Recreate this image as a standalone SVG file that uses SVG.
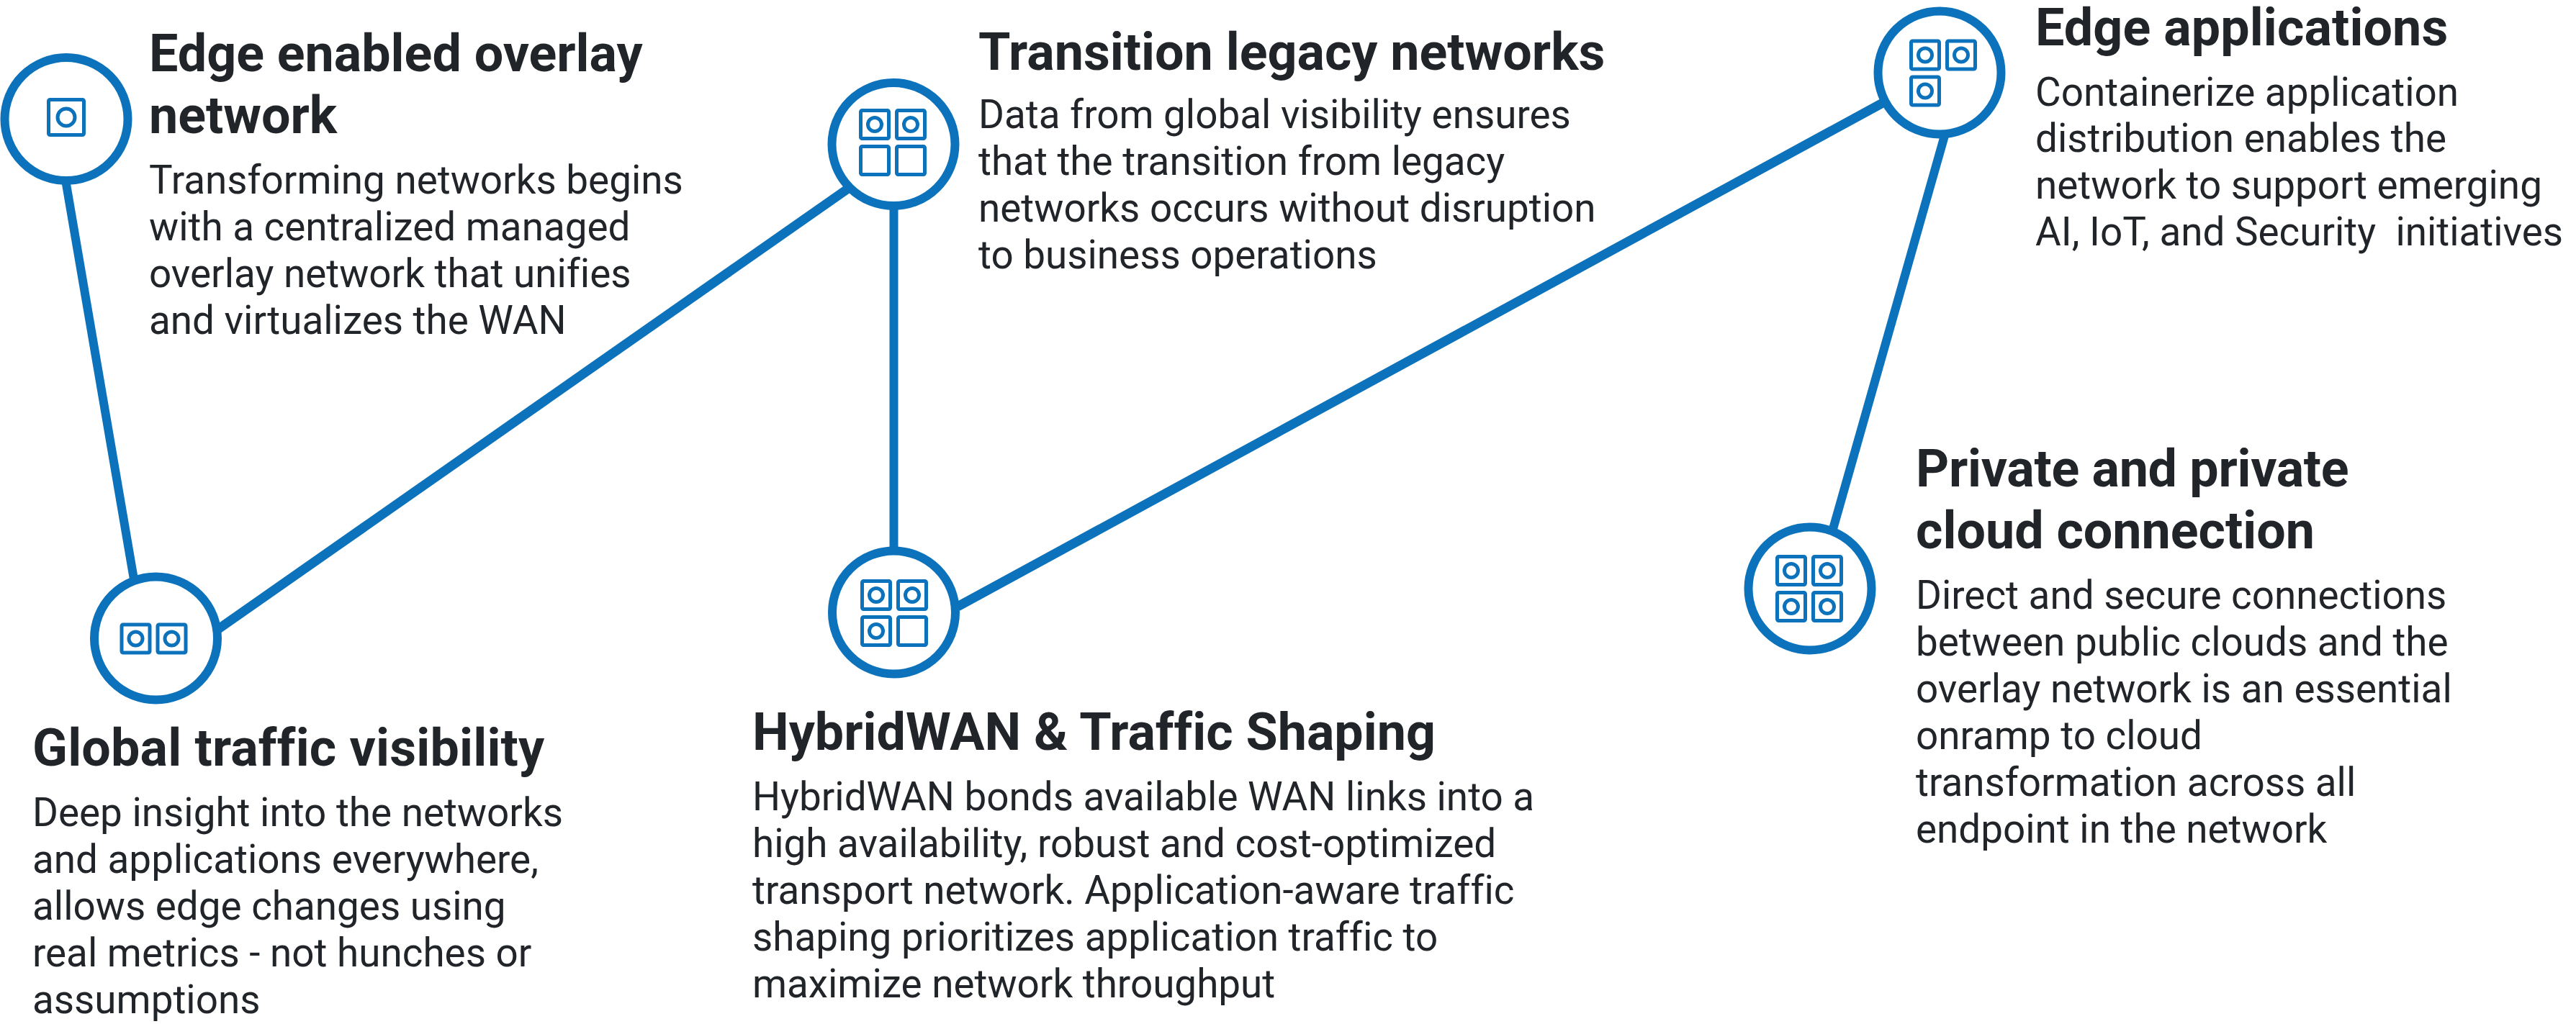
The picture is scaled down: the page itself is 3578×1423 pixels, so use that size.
<svg xmlns="http://www.w3.org/2000/svg" width="3578" height="1423" viewBox="0 0 3578 1423">
<style>
text{font-family:Roboto,"Liberation Sans",sans-serif;fill:#212529;font-variant-ligatures:none;white-space:pre}
.h{font-size:71.8px;font-weight:700}
.b{font-size:54.8px;font-weight:400}
.c{fill:#fff;stroke:#0b72bb;stroke-width:12}
.s{fill:none;stroke:#0b72bb;stroke-width:5;stroke-linejoin:round}
.l{stroke:#0b72bb;stroke-width:12;fill:none}
.d{stroke-width:13}
</style>
<defs>
<g id="sq"><rect class="s" x="2.500" y="2.500" width="39" height="39" rx="2"/></g>
<g id="sqc"><rect class="s" x="2.500" y="2.500" width="39" height="39" rx="2"/><circle class="s" cx="22" cy="22" r="9.500"/></g>
</defs>
<rect width="3578" height="1423" fill="#fff"/>
<g id="connectors">
<line class="l" x1="91" y1="250" x2="186" y2="805"/>
<line class="l d" x1="302" y1="875" x2="1178" y2="262"/>
<line class="l" x1="1241.500" y1="270" x2="1241.500" y2="770"/>
<line class="l d" x1="1330" y1="843" x2="2615" y2="143"/>
<line class="l" x1="2702" y1="185" x2="2546" y2="735"/>
</g>
<g id="node-edge-overlay">
<circle class="c" cx="92" cy="165.500" r="85.500"/>
<rect class="s" x="67.500" y="138.500" width="49" height="49" rx="2"/>
<circle class="s" cx="92" cy="163" r="12"/>
<text class="h" x="207" y="98.500">Edge enabled overlay</text>
<text class="h" x="207" y="184.500">network</text>
<text class="b" x="207" y="268.500">Transforming networks begins</text>
<text class="b" x="207" y="333.500">with a centralized managed</text>
<text class="b" x="207" y="398.500">overlay network that unifies</text>
<text class="b" x="207" y="463.500">and virtualizes the WAN</text>
</g>
<g id="node-global-visibility">
<circle class="c" cx="216.500" cy="887" r="85.500"/>
<use href="#sqc" x="166.500" y="865.500"/>
<use href="#sqc" x="216.500" y="865.500"/>
<text class="h" x="45" y="1064" letter-spacing="0.19">Global traffic visibility</text>
<text class="b" x="45" y="1148">Deep insight into the networks</text>
<text class="b" x="45" y="1213">and applications everywhere,</text>
<text class="b" x="45" y="1278">allows edge changes using</text>
<text class="b" x="45" y="1343">real metrics - not hunches or</text>
<text class="b" x="45" y="1408">assumptions</text>
</g>
<g id="node-transition-legacy">
<circle class="c" cx="1241" cy="200.500" r="85.500"/>
<use href="#sqc" x="1193" y="151"/>
<use href="#sqc" x="1243" y="151"/>
<use href="#sq" x="1193" y="201"/>
<use href="#sq" x="1243" y="201"/>
<text class="h" x="1359" y="97">Transition legacy networks</text>
<text class="b" x="1359" y="178">Data from global visibility ensures</text>
<text class="b" x="1359" y="243">that the transition from legacy</text>
<text class="b" x="1359" y="308">networks occurs without disruption</text>
<text class="b" x="1359" y="373">to business operations</text>
</g>
<g id="node-hybridwan">
<circle class="c" cx="1241.500" cy="851" r="85.500"/>
<use href="#sqc" x="1195" y="805"/>
<use href="#sqc" x="1245" y="805"/>
<use href="#sqc" x="1195" y="855"/>
<use href="#sq" x="1245" y="855"/>
<text class="h" x="1045" y="1042">HybridWAN &amp; Traffic Shaping</text>
<text class="b" x="1045" y="1126">HybridWAN bonds available WAN links into a</text>
<text class="b" x="1045" y="1191">high availability, robust and cost-optimized</text>
<text class="b" x="1045" y="1256">transport network. Application-aware traffic</text>
<text class="b" x="1045" y="1321">shaping prioritizes application traffic to</text>
<text class="b" x="1045" y="1386">maximize network throughput</text>
</g>
<g id="node-edge-applications">
<circle class="c" cx="2694" cy="101" r="85.500"/>
<use href="#sqc" x="2652" y="54.500"/>
<use href="#sqc" x="2702" y="54.500"/>
<use href="#sqc" x="2652" y="104.500"/>
<text class="h" x="2827" y="63" letter-spacing="0.1">Edge applications</text>
<text class="b" x="2827" y="146.500">Containerize application</text>
<text class="b" x="2827" y="211">distribution enables the</text>
<text class="b" x="2827" y="276">network to support emerging</text>
<text class="b" x="2827" y="341">AI, IoT, and Security  initiatives</text>
</g>
<g id="node-private-cloud">
<circle class="c" cx="2514" cy="818" r="85.500"/>
<use href="#sqc" x="2466" y="771"/>
<use href="#sqc" x="2516" y="771"/>
<use href="#sqc" x="2466" y="821"/>
<use href="#sqc" x="2516" y="821"/>
<text class="h" x="2661" y="676" letter-spacing="-0.28">Private and private</text>
<text class="h" x="2661" y="761.500">cloud connection</text>
<text class="b" x="2661" y="845.500">Direct and secure connections</text>
<text class="b" x="2661" y="910.500">between public clouds and the</text>
<text class="b" x="2661" y="975.500">overlay network is an essential</text>
<text class="b" x="2661" y="1040.500">onramp to cloud</text>
<text class="b" x="2661" y="1105.500">transformation across all</text>
<text class="b" x="2661" y="1170.500">endpoint in the network</text>
</g>
</svg>
